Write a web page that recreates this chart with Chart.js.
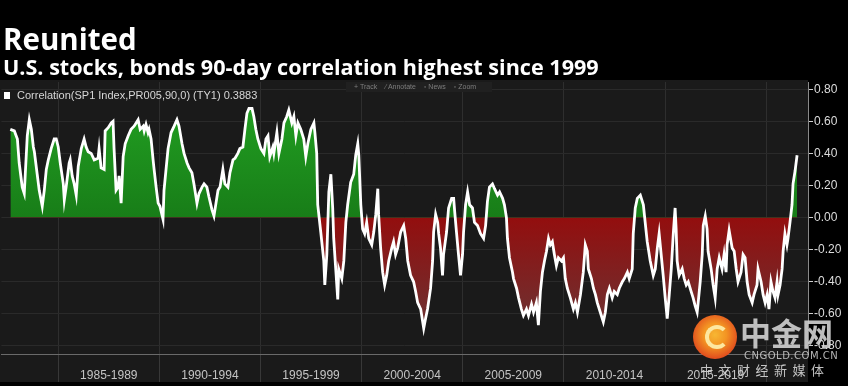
<!DOCTYPE html>
<html>
<head>
<meta charset="utf-8">
<script src="https://cdn.jsdelivr.net/npm/chart.js@4.4.0/dist/chart.umd.min.js"></script>
<style>
    html, body { margin: 0; padding: 0; background: #000; }
    #wrap { position: relative; width: 848px; height: 386px; overflow: hidden; background: #000; }
    #chart { position: absolute; left: 0; top: 0; }
    .txt { position: absolute; white-space: nowrap; }
    #title { left: 3px; top: 24px; font: bold 29.5px "Open Sans", sans-serif; line-height: 30px; color: #fff; }
    #subtitle { left: 3px; top: 56px; font: bold 21.6px "Open Sans", sans-serif; line-height: 22px; color: #fff; }
    #legendBox { position: absolute; left: 4px; top: 92px; width: 6px; height: 7px; background: #fff; }
    #legend { left: 17px; top: 89px; font: 11px "Liberation Sans", Arial, sans-serif; line-height: 12px; color: #d6d6d6; }
    #toolbar { left: 346px; top: 82px; width: 146px; height: 10px; background: #202020; font: 7px "Liberation Sans", Arial, sans-serif; line-height: 10px; color: #7e7e7e; }
    #toolbar span { margin-left: 8px; }
    #logo { position: absolute; left: 693px; top: 315px; width: 44px; height: 44px; border-radius: 50%;
            background: radial-gradient(circle at 50% 45%, #f7b733 0%, #f39423 35%, #e2521e 70%, #c9301a 100%); }
    #logoInner { position: absolute; left: 12px; top: 10px; width: 16px; height: 16px; border-radius: 50%; border: 4px solid #fde7a0; border-right-color: transparent; }
    #wm1 { left: 740px; top: 314px; font: bold 31px "Noto Sans CJK SC", sans-serif; line-height: 36px; color: rgba(210,210,210,0.9); }
    #wm2 { left: 744px; top: 350px; font: 10px "DejaVu Sans", sans-serif; line-height: 11px; color: rgba(210,210,210,0.85); letter-spacing: 0.5px; }
    #wm3 { left: 700px; top: 362px; font: 13px "Noto Sans CJK SC", sans-serif; line-height: 16px; color: rgba(215,215,215,0.9); letter-spacing: 5.5px; }
</style>
</head>
<body>
<div id="wrap">
    <canvas id="chart" width="848" height="386"></canvas>
    <div class="txt" id="title">Reunited</div>
    <div class="txt" id="subtitle">U.S. stocks, bonds 90-day correlation highest since 1999</div>
    <div id="legendBox"></div>
    <div class="txt" id="legend">Correlation(SP1 Index,PR005,90,0) (TY1) 0.3883</div>
    <div class="txt" id="toolbar"><span>+ Track</span><span>&#8260; Annotate</span><span>&#9643; News</span><span>&#9643; Zoom</span></div>
    <div id="logo"><div id="logoInner"></div></div>
    <div class="txt" id="wm1">中金网</div>
    <div class="txt" id="wm2">CNGOLD.COM.CN</div>
    <div class="txt" id="wm3">中文财经新媒体</div>
</div>
<script>
// 90-day correlation, S&P 500 futures vs 10y Treasury futures
const years = [
    1982.63, 1982.83, 1982.98, 1983.07, 1983.22, 1983.32, 1983.37, 1983.47, 1983.57, 1983.67, 1983.77, 1983.82, 1983.96,
    1984.06, 1984.21, 1984.31, 1984.41, 1984.51, 1984.65, 1984.80, 1984.90,
    1985.00, 1985.10, 1985.25, 1985.30, 1985.39, 1985.54, 1985.59, 1985.69, 1985.79, 1985.89, 1985.99,
    1986.14, 1986.28, 1986.38, 1986.48, 1986.63, 1986.78, 1986.97,
    1987.02, 1987.12, 1987.27, 1987.32, 1987.47, 1987.62, 1987.71, 1987.76, 1987.86, 1987.96,
    1988.01, 1988.11, 1988.21, 1988.31, 1988.46, 1988.60, 1988.75, 1988.85, 1988.95,
    1989.05, 1989.20, 1989.25, 1989.34, 1989.44, 1989.49, 1989.59, 1989.69, 1989.74, 1989.84, 1989.94,
    1990.03, 1990.18, 1990.23, 1990.33, 1990.43, 1990.58, 1990.73, 1990.87, 1990.97,
    1991.12, 1991.22, 1991.37, 1991.47, 1991.61, 1991.71, 1991.86, 1991.96,
    1992.11, 1992.21, 1992.35, 1992.45, 1992.60, 1992.70, 1992.80, 1992.90,
    1993.00, 1993.14, 1993.24, 1993.39, 1993.49, 1993.64, 1993.74, 1993.88, 1993.98,
    1994.13, 1994.23, 1994.33, 1994.43, 1994.58, 1994.67, 1994.77, 1994.87,
    1995.02, 1995.17, 1995.27, 1995.37, 1995.46, 1995.61, 1995.66, 1995.81, 1995.91,
    1996.06, 1996.16, 1996.30, 1996.40, 1996.55, 1996.65, 1996.75, 1996.85, 1996.99,
    1997.14, 1997.24, 1997.34, 1997.49, 1997.64, 1997.69, 1997.78, 1997.83, 1997.98,
    1998.13, 1998.18, 1998.28, 1998.38, 1998.48, 1998.57, 1998.62, 1998.72, 1998.82, 1998.87,
    1999.02, 1999.12, 1999.22, 1999.31, 1999.46, 1999.61, 1999.71, 1999.81, 1999.86, 1999.96,
    2000.05, 2000.15, 2000.25, 2000.35, 2000.50, 2000.60, 2000.70, 2000.80, 2000.84, 2000.94,
    2001.04, 2001.14, 2001.24, 2001.34, 2001.49, 2001.58, 2001.68, 2001.78, 2001.93,
    2002.08, 2002.18, 2002.28, 2002.42, 2002.57, 2002.67, 2002.77, 2002.92,
    2003.07, 2003.16, 2003.26, 2003.41, 2003.51, 2003.56, 2003.66, 2003.76, 2003.81, 2003.90,
    2004.00, 2004.05, 2004.20, 2004.30, 2004.45, 2004.55, 2004.60, 2004.69, 2004.79, 2004.89, 2004.99,
    2005.04, 2005.14, 2005.24, 2005.34, 2005.48, 2005.58, 2005.73, 2005.88,
    2006.03, 2006.13, 2006.22, 2006.32, 2006.47, 2006.57, 2006.72, 2006.82, 2006.97,
    2007.06, 2007.16, 2007.21, 2007.31, 2007.46, 2007.51, 2007.66, 2007.76, 2007.90,
    2008.00, 2008.15, 2008.25, 2008.40, 2008.50, 2008.64, 2008.74, 2008.84, 2008.94,
    2009.04, 2009.14, 2009.24, 2009.33, 2009.43, 2009.53, 2009.63, 2009.73, 2009.88, 2009.98,
    2010.07, 2010.17, 2010.32, 2010.47, 2010.57, 2010.67, 2010.82, 2010.96,
    2011.06, 2011.16, 2011.21, 2011.36, 2011.46, 2011.56, 2011.65, 2011.80, 2011.95,
    2012.05, 2012.15, 2012.25, 2012.39, 2012.49, 2012.64, 2012.74, 2012.89, 2012.99,
    2013.14, 2013.23, 2013.38, 2013.43, 2013.53, 2013.63, 2013.78, 2013.93,
    2014.02, 2014.12, 2014.27, 2014.42, 2014.52, 2014.62, 2014.71, 2014.81, 2014.91,
    2015.01, 2015.11, 2015.21, 2015.31, 2015.41, 2015.50, 2015.55, 2015.60, 2015.70, 2015.85, 2015.95,
    2016.05, 2016.15, 2016.29, 2016.39, 2016.49, 2016.59, 2016.64, 2016.74, 2016.84, 2016.89, 2016.99,
    2017.08, 2017.13, 2017.28, 2017.38, 2017.48, 2017.58, 2017.68, 2017.82, 2017.92,
    2018.02, 2018.07, 2018.17, 2018.32, 2018.42, 2018.52, 2018.61, 2018.76, 2018.86, 2018.96,
    2019.06, 2019.16, 2019.31, 2019.40, 2019.55, 2019.60, 2019.75, 2019.85, 2019.95,
    2020.05, 2020.14, 2020.24, 2020.34, 2020.44, 2020.54, 2020.59, 2020.69, 2020.79, 2020.84, 2020.93,
    2021.03, 2021.08, 2021.18, 2021.28, 2021.33, 2021.43, 2021.53
];

const corr = [
    0.55, 0.54, 0.49, 0.34, 0.19, 0.15, 0.27, 0.51, 0.61, 0.55, 0.44, 0.41, 0.27,
    0.17, 0.07, 0.17, 0.30, 0.36, 0.43, 0.49, 0.49,
    0.44, 0.34, 0.21, 0.11, 0.19, 0.34, 0.36, 0.26, 0.21, 0.14, 0.32,
    0.43, 0.49, 0.44, 0.41, 0.40, 0.36, 0.37,
    0.43, 0.31, 0.30, 0.54, 0.56, 0.59, 0.60, 0.43, 0.17, 0.19,
    0.26, 0.09, 0.38, 0.46, 0.51, 0.55, 0.57, 0.59, 0.61,
    0.55, 0.57, 0.54, 0.58, 0.53, 0.55, 0.49, 0.36, 0.30, 0.19, 0.09,
    0.07, -0.01, 0.17, 0.30, 0.43, 0.53, 0.57, 0.61, 0.57,
    0.46, 0.40, 0.34, 0.31, 0.28, 0.21, 0.09, 0.15,
    0.19, 0.21, 0.19, 0.13, 0.05, 0.01, 0.09, 0.17,
    0.19, 0.30, 0.21, 0.19, 0.28, 0.36, 0.37, 0.40, 0.43,
    0.44, 0.55, 0.65, 0.68, 0.68, 0.63, 0.55, 0.49,
    0.43, 0.40, 0.49, 0.51, 0.38, 0.44, 0.40, 0.53, 0.40,
    0.49, 0.59, 0.63, 0.67, 0.59, 0.63, 0.51, 0.59, 0.55,
    0.49, 0.38, 0.46, 0.55, 0.59, 0.53, 0.40, 0.08, -0.09,
    -0.27, -0.42, -0.23, 0.16, 0.27, 0.06, -0.13, -0.32, -0.51, -0.32,
    -0.38, -0.27, -0.03, 0.08, 0.22, 0.27, 0.39, 0.46, 0.39, 0.08,
    -0.07, -0.10, -0.03, -0.13, -0.17, -0.09, 0.02, 0.18, 0.02, -0.19,
    -0.34, -0.42, -0.36, -0.27, -0.19, -0.15, -0.23, -0.19, -0.09,
    -0.05, -0.13, -0.27, -0.36, -0.40, -0.46, -0.53, -0.57,
    -0.69, -0.63, -0.57, -0.44, -0.27, -0.09, 0.02, -0.03, -0.10, -0.19,
    -0.36, -0.23, -0.09, 0.06, 0.12, 0.12, 0.04, -0.09, -0.23, -0.36, -0.23,
    -0.09, 0.08, 0.16, 0.08, 0.06, -0.03, -0.05, -0.10,
    -0.13, -0.05, 0.10, 0.19, 0.21, 0.18, 0.14, 0.16, 0.12,
    0.08, 0.00, -0.13, -0.25, -0.34, -0.38, -0.44, -0.50, -0.57,
    -0.61, -0.57, -0.61, -0.54, -0.59, -0.53, -0.67, -0.46, -0.34,
    -0.27, -0.21, -0.13, -0.17, -0.15, -0.23, -0.30, -0.25, -0.27, -0.25,
    -0.38, -0.44, -0.50, -0.57, -0.53, -0.59, -0.48, -0.34,
    -0.17, -0.21, -0.32, -0.38, -0.44, -0.48, -0.53, -0.59, -0.65,
    -0.59, -0.48, -0.44, -0.50, -0.46, -0.48, -0.44, -0.40, -0.38,
    -0.34, -0.38, -0.32, -0.10, 0.06, 0.12, 0.14, 0.08,
    -0.03, -0.15, -0.27, -0.36, -0.32, -0.19, -0.10, -0.23, -0.36,
    -0.50, -0.63, -0.48, -0.32, -0.10, 0.06, -0.07, -0.27, -0.36, -0.32, -0.38,
    -0.42, -0.40, -0.46, -0.50, -0.55, -0.59, -0.53, -0.40, -0.23, -0.05, 0.01,
    -0.07, -0.21, -0.32, -0.42, -0.50, -0.32, -0.25, -0.32, -0.23,
    -0.34, -0.17, -0.08, -0.19, -0.21, -0.32, -0.40, -0.34, -0.23, -0.25,
    -0.40, -0.48, -0.53, -0.48, -0.42, -0.32, -0.40, -0.48, -0.53,
    -0.48, -0.57, -0.40, -0.46, -0.50, -0.40, -0.48, -0.42, -0.32, -0.21, -0.10,
    -0.17, -0.13, -0.03, 0.08, 0.21, 0.29, 0.3883
];

const periodStarts = [1985, 1990, 1995, 2000, 2005, 2010, 2015, 2020];
const periodLabels = ['1985-1989', '1990-1994', '1995-1999', '2000-2004', '2005-2009', '2010-2014', '2015-2019'];
const yTicks = [0.8, 0.6, 0.4, 0.2, 0, -0.2, -0.4, -0.6, -0.8];

const X_MIN = 1982.19;
const X_MAX = 2022.07;

// dark panel behind the plot and the date strip, black elsewhere
const panelBackground = {
    id: 'panelBackground',
    beforeDraw(chart) {
        const { ctx, chartArea } = chart;
        ctx.save();
        ctx.fillStyle = '#000';
        ctx.fillRect(0, 0, chart.width, chart.height);
        ctx.fillStyle = '#1a1a1a';
        ctx.fillRect(0, chartArea.top - 2, chartArea.right, 382 - chartArea.top + 2);
        ctx.restore();
    }
};

const ctx = document.getElementById('chart').getContext('2d');

const chart = new Chart(ctx, {
    type: 'line',
    data: {
        datasets: [{
            label: 'Correlation(SP1 Index,PR005,90,0) (TY1)',
            data: years.map((yr, i) => ({ x: yr, y: corr[i] })),
            borderColor: '#ffffff',
            borderWidth: 2.8,
            pointRadius: 0,
            tension: 0,
            fill: { target: 'origin', above: '#1d8a1d', below: '#881212' }
        }]
    },
    options: {
        responsive: false,
        animation: false,
        devicePixelRatio: 1,
        layout: { padding: { top: 82, left: 0, right: 0, bottom: 0 } },
        plugins: {
            legend: { display: false },
            tooltip: { enabled: false }
        },
        scales: {
            x: {
                type: 'linear',
                position: 'bottom',
                min: X_MIN,
                max: X_MAX,
                afterBuildTicks: (scale) => { scale.ticks = periodStarts.map(v => ({ value: v })); },
                afterFit: (scale) => { scale.height = 0; },
                grid: { color: '#2e2e2e', lineWidth: 1, tickLength: 28, tickColor: '#383838' },
                border: { color: '#6a6a6a', width: 1 },
                ticks: { display: false }
            },
            xl: {
                type: 'linear',
                position: 'bottom',
                min: X_MIN,
                max: X_MAX,
                afterBuildTicks: (scale) => {
                    scale.ticks = periodLabels.map((l, i) => ({ value: periodStarts[i] + 2.5 }));
                },
                afterFit: (scale) => { scale.height = 32; },
                grid: { display: false, drawTicks: false },
                border: { display: false },
                ticks: {
                    autoSkip: false,
                    maxRotation: 0,
                    padding: 14,
                    color: '#c4c4c4',
                    font: { family: 'Liberation Sans, Arial, sans-serif', size: 12 },
                    callback: (value, index) => periodLabels[index]
                }
            },
            y: {
                position: 'right',
                min: -0.85,
                max: 0.845,
                afterBuildTicks: (scale) => { scale.ticks = yTicks.map(v => ({ value: v })); },
                afterFit: (scale) => { scale.width = 40; },
                grid: { color: '#2a2a2a', lineWidth: 1, tickLength: 5, tickColor: '#cfcfcf' },
                border: { color: '#8a8a8a', width: 1 },
                ticks: {
                    autoSkip: false,
                    padding: 1,
                    color: '#dcdcdc',
                    font: { family: 'Liberation Sans, Arial, sans-serif', size: 12 },
                    callback: (value) => value.toFixed(2)
                }
            }
        }
    },
    plugins: [panelBackground]
});

// gradient fills: green above zero, red fading downward below zero
const yScale = chart.scales.y;
const zeroPx = yScale.getPixelForValue(0);
const greenFill = ctx.createLinearGradient(0, yScale.getPixelForValue(0.75), 0, zeroPx);
greenFill.addColorStop(0, '#22a022');
greenFill.addColorStop(1, '#187d18');
const redFill = ctx.createLinearGradient(0, zeroPx, 0, yScale.getPixelForValue(-0.72));
redFill.addColorStop(0, '#930e0e');
redFill.addColorStop(1, '#6a3434');
chart.data.datasets[0].fill = { target: 'origin', above: greenFill, below: redFill };
chart.update('none');
</script>
</body>
</html>
